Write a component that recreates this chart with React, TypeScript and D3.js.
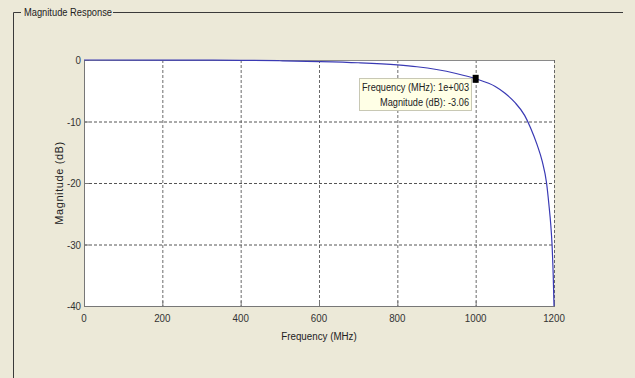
import React from "react";
import * as d3 from "d3";

const freqMHz = [0, 200, 400, 500, 600, 700, 800, 850, 900, 950, 1000, 1050, 1075, 1100, 1125, 1140, 1157, 1170, 1181, 1187, 1192, 1195, 1198, 1200];
const magDb = [0, -0.01, -0.05, -0.12, -0.25, -0.45, -0.8, -1.1, -1.55, -2.2, -3.06, -4.3, -5.4, -6.9, -9.0, -11, -13.8, -16.5, -20, -23.5, -27, -30, -35, -40];
const xTicks = [0, 200, 400, 600, 800, 1000, 1200];
const yTicks = [0, -10, -20, -30, -40];
const markerF = 1000;
const markerDb = -3.06;
const tipLines = ["Frequency (MHz): 1e+003", "Magnitude (dB): -3.06"];

const W = 635, H = 378;
const FONT = "'Liberation Sans', Arial, sans-serif";

function T(props: { x: number; y: number; anchor?: string; size?: number; sx?: number; fill?: string; children: React.ReactNode }) {
  const { x, y, anchor = "start", size = 11.5, sx = 0.85, fill = "#333", children } = props;
  return (
    <text transform={`translate(${x},${y}) scale(${sx},1)`} textAnchor={anchor} fontFamily={FONT} fontSize={size} fill={fill}>
      {children}
    </text>
  );
}

export default function App() {
  const x = d3.scaleLinear().domain([0, 1200]).range([84, 554]);
  const y = d3.scaleLinear().domain([-40, 0]).range([306, 60]);
  const data = freqMHz.map((f, i) => [f, magDb[i]] as [number, number]);
  const line = d3.line<[number, number]>().x(d => x(d[0])).y(d => y(d[1])).curve(d3.curveMonotoneX);
  const [x0, x1] = x.range();
  const [y1, y0] = y.range();
  const mx = x(markerF), my = y(markerDb);
  return (
    <svg width={W} height={H} style={{ position: "absolute", left: 0, top: 0, display: "block" }}>
      <rect x={0} y={0} width={W} height={H} fill="#ECE9D8" />
      {/* group box */}
      <path d={`M13.5,${H} L13.5,12.5 L21,12.5`} fill="none" stroke="#3a3a3a" strokeWidth={1} />
      <path d={`M113,12.5 L623,12.5`} fill="none" stroke="#3a3a3a" strokeWidth={1} />
      <text x={24} y={16} fontFamily={FONT} fontSize={11.5} fill="#222" textLength={88} lengthAdjust="spacingAndGlyphs">Magnitude Response</text>
      {/* plot area */}
      <rect x={x0} y={y0} width={x1 - x0} height={y1 - y0} fill="#ffffff" />
      {/* grid */}
      {xTicks.slice(1, -1).map(t => (
        <line key={"gx" + t} x1={x(t) + 0.5} x2={x(t) + 0.5} y1={y0} y2={y1} stroke="#6a6a6a" strokeDasharray="3,2" />
      ))}
      {yTicks.slice(1, -1).map(t => (
        <line key={"gy" + t} x1={x0} x2={x1} y1={y(t) + 0.5} y2={y(t) + 0.5} stroke="#555" strokeDasharray="3,2" />
      ))}
      {/* box */}
      <line x1={x0} x2={x1} y1={y0 + 0.5} y2={y0 + 0.5} stroke="#8a8a8a" />
      <line x1={x1 + 0.5} x2={x1 + 0.5} y1={y0} y2={y1} stroke="#666" strokeDasharray="3,2" />
      <line x1={x0 + 0.5} x2={x0 + 0.5} y1={y0} y2={y1} stroke="#777" />
      <line x1={x0} x2={x1 + 1} y1={y1 + 0.5} y2={y1 + 0.5} stroke="#777" />
      {/* ticks */}
      {xTicks.map(t => (
        <g key={"xt" + t}>
          <line x1={x(t) + 0.5} x2={x(t) + 0.5} y1={y1} y2={y1 - 5} stroke="#777" />
          <T x={x(t)} y={y1 + 16} anchor="middle">{t}</T>
        </g>
      ))}
      {yTicks.map(t => (
        <g key={"yt" + t}>
          <line x1={x0} x2={x0 + 5} y1={y(t) + 0.5} y2={y(t) + 0.5} stroke="#777" />
          <T x={x0 - 3} y={y(t) + 4} anchor="end">{t}</T>
        </g>
      ))}
      <T x={(x0 + x1) / 2} y={y1 + 34} anchor="middle" fill="#222">Frequency (MHz)</T>
      <text transform={`translate(63,${(y0 + y1) / 2}) rotate(-90)`} textAnchor="middle" fontFamily={FONT} fontSize={11} fill="#222" letterSpacing={0.6}>Magnitude (dB)</text>
      {/* curve */}
      <path d={line(data) || ""} fill="none" stroke="#3a3ab4" strokeWidth={1.2} />
      {/* data tip */}
      <rect x={359.5} y={78.5} width={112} height={32} fill="#FFFFE6" stroke="#c8c8b4" />
      <T x={469} y={91} anchor="end" sx={0.8} fill="#222">{tipLines[0]}</T>
      <T x={469} y={106} anchor="end" sx={0.8} fill="#222">{tipLines[1]}</T>
      <rect x={mx - 3} y={my - 4} width={6} height={8} fill="#000" />
    </svg>
  );
}
